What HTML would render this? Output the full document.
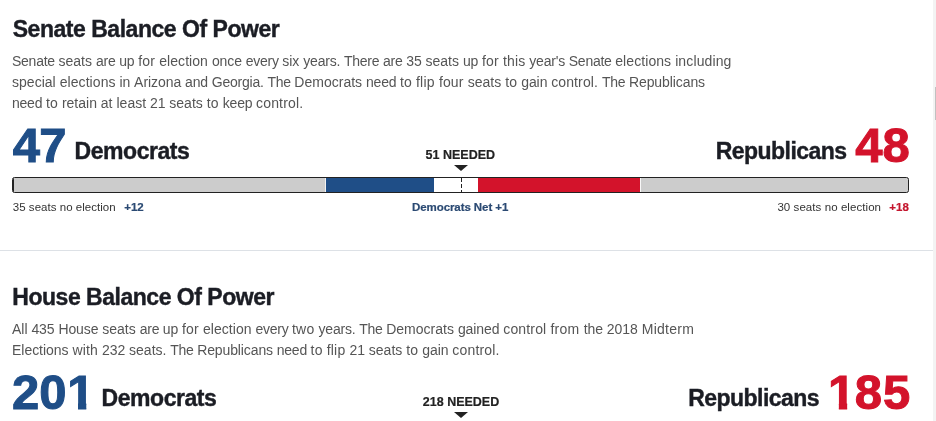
<!DOCTYPE html>
<html lang="en">
<head>
<meta charset="utf-8">
<title>Balance Of Power</title>
<style>
html,body{margin:0;padding:0;background:#fff;}
body{width:936px;height:421px;overflow:hidden;position:relative;font-family:"Liberation Sans",sans-serif;color:#1b1d24;}
.t{position:absolute;white-space:nowrap;margin:0;padding:0;line-height:1;}
h2.t{font-size:23px;font-weight:bold;color:#1b1d24;-webkit-text-stroke:0.4px #1b1d24;}
p.t{font-size:14px;color:#555;}
.num{font-size:49px;font-weight:bold;-webkit-text-stroke:1px;}
.one{display:inline-block;line-height:1;vertical-align:top;clip-path:polygon(0 0,100% 0,100% 34.8px,19.15px 34.8px,19.15px 100%,10.85px 100%,10.85px 34.8px,0 34.8px);}
.party{font-size:23px;font-weight:bold;color:#1b1d24;-webkit-text-stroke:0.4px #1b1d24;}
.need{font-size:12.5px;font-weight:bold;color:#222;-webkit-text-stroke:0.2px #222;}
.lbl{font-size:11.5px;color:#333;}
.lbl b{font-weight:bold;-webkit-text-stroke:0.2px;}
.dem{color:#1f4e87;}
.rep{color:#d3132b;}
.demd{color:#2b4a73;}
.repd{color:#c4162e;}
.tri{position:absolute;width:0;height:0;border-left:7.2px solid transparent;border-right:7.2px solid transparent;border-top:6.4px solid #222;}
.bar{position:absolute;left:12px;width:897px;height:16px;box-sizing:border-box;border:1px solid #222;border-radius:2.5px;background:#ccc;overflow:hidden;}
.bar i{position:absolute;top:0;height:100%;display:block;}
.hr{position:absolute;left:0;width:933px;height:1px;background:#dde1e6;}
.sb{position:absolute;left:932.5px;top:0;width:4px;height:421px;background:#f3f3f3;}
.sbt{position:absolute;left:934.5px;top:87px;width:2px;height:33px;background:#c1c1c1;}
</style>
</head>
<body>
<h2 class="t" id="h1" style="left:12.7px;top:18px;letter-spacing:-0.47px;">Senate Balance Of Power</h2>
<p class="t" id="p1" style="left:12px;top:54px;"><span style="letter-spacing:-0.256px">Senate </span><span style="letter-spacing:0.020px">seats </span><span style="letter-spacing:-0.228px">are </span><span style="letter-spacing:-0.148px">up </span><span style="letter-spacing:0.200px">for </span><span style="letter-spacing:0.056px">election </span><span style="letter-spacing:-0.072px">once </span><span style="letter-spacing:-0.286px">every </span><span style="letter-spacing:-0.000px">six </span><span style="letter-spacing:-0.185px">years. </span><span style="letter-spacing:-0.233px">There </span><span style="letter-spacing:-0.228px">are </span><span style="letter-spacing:-0.098px">35 </span><span style="letter-spacing:0.020px">seats </span><span style="letter-spacing:-0.148px">up </span><span style="letter-spacing:0.200px">for </span><span style="letter-spacing:0.133px">this </span><span style="letter-spacing:-0.188px">year's </span><span style="letter-spacing:-0.256px">Senate </span><span style="letter-spacing:0.072px">elections </span><span style="letter-spacing:0.124px">including</span></p>
<p class="t" id="p2" style="left:12px;top:75px;"><span style="letter-spacing:0.022px">special </span><span style="letter-spacing:0.072px">elections </span><span style="letter-spacing:-0.071px">in </span><span style="letter-spacing:-0.052px">Arizona </span><span style="letter-spacing:-0.143px">and </span><span style="letter-spacing:-0.217px">Georgia. </span><span style="letter-spacing:-0.273px">The </span><span style="letter-spacing:0.015px">Democrats </span><span style="letter-spacing:-0.230px">need </span><span style="letter-spacing:0.147px">to </span><span style="letter-spacing:0.233px">flip </span><span style="letter-spacing:0.145px">four </span><span style="letter-spacing:0.020px">seats </span><span style="letter-spacing:0.147px">to </span><span style="letter-spacing:-0.066px">gain </span><span style="letter-spacing:0.114px">control. </span><span style="letter-spacing:-0.273px">The </span><span style="letter-spacing:-0.089px">Republicans</span></p>
<p class="t" id="p3" style="left:12px;top:96px;"><span style="letter-spacing:-0.230px">need </span><span style="letter-spacing:0.147px">to </span><span style="letter-spacing:-0.003px">retain </span><span style="letter-spacing:0.024px">at </span><span style="letter-spacing:0.032px">least </span><span style="letter-spacing:-0.098px">21 </span><span style="letter-spacing:0.020px">seats </span><span style="letter-spacing:0.147px">to </span><span style="letter-spacing:-0.206px">keep </span><span style="letter-spacing:0.182px">control.</span></p>

<div class="t num dem" id="n1" style="left:12.8px;top:121.2px;"><span style="letter-spacing:-0.85px;">4</span>7</div>
<div class="t party" id="d1" style="left:74.6px;top:140.2px;letter-spacing:-0.46px;">Democrats</div>
<div class="t party" id="r1" style="left:715.8px;top:140.2px;letter-spacing:-0.56px;">Republicans</div>
<div class="t num rep" id="n2" style="left:855.3px;top:121.2px;"><span style="letter-spacing:-0.15px;">4</span>8</div>
<div class="t need" id="k1" style="left:425.6px;top:149px;">51 NEEDED</div>
<div class="tri" id="t1" style="left:454.1px;top:164.8px;"></div>
<div class="bar" id="b1" style="top:177px;">
  <i style="left:0;width:0.4px;background:#222;"></i>
  <i style="right:0;width:0.4px;background:#222;"></i>
  <i style="left:312.4px;width:0.7px;background:rgba(255,255,255,.75);"></i>
  <i style="left:313px;width:108px;background:#1f4e87;"></i>
  <i style="left:421px;width:44px;background:#fff;"></i>
  <i style="left:448px;width:1px;background:repeating-linear-gradient(to bottom,#222 0,#222 4px,transparent 4px,transparent 6px);"></i>
  <i style="left:465px;width:162px;background:#d3132b;"></i>
  <i style="left:627px;width:0.7px;background:rgba(255,255,255,.85);"></i>
</div>
<div class="t lbl" id="l1" style="left:12.8px;top:202px;letter-spacing:0.03px;">35 seats no election</div>
<div class="t lbl demd" id="l2" style="left:124.2px;top:202px;"><b>+12</b></div>
<div class="t lbl demd" id="l3" style="left:412px;top:201.6px;letter-spacing:-0.08px;"><b>Democrats Net +1</b></div>
<div class="t lbl" id="l4" style="left:777.4px;top:202px;letter-spacing:0.07px;">30 seats no election</div>
<div class="t lbl repd" id="l5" style="left:889.3px;top:202px;"><b>+18</b></div>

<div class="hr" style="top:250px;"></div>

<h2 class="t" id="h2" style="left:12.3px;top:286px;letter-spacing:-0.48px;">House Balance Of Power</h2>
<p class="t" id="p4" style="left:12px;top:322px;"><span style="letter-spacing:-0.019px">All </span><span style="letter-spacing:-0.056px">435 </span><span style="letter-spacing:-0.103px">House </span><span style="letter-spacing:0.020px">seats </span><span style="letter-spacing:-0.228px">are </span><span style="letter-spacing:-0.148px">up </span><span style="letter-spacing:0.200px">for </span><span style="letter-spacing:0.056px">election </span><span style="letter-spacing:-0.286px">every </span><span style="letter-spacing:0.210px">two </span><span style="letter-spacing:-0.185px">years. </span><span style="letter-spacing:-0.273px">The </span><span style="letter-spacing:0.015px">Democrats </span><span style="letter-spacing:-0.087px">gained </span><span style="letter-spacing:0.155px">control </span><span style="letter-spacing:0.279px">from </span><span style="letter-spacing:-0.052px">the </span><span style="letter-spacing:-0.032px">2018 </span><span style="letter-spacing:0.272px">Midterm</span></p>
<p class="t" id="p5" style="left:12px;top:343px;"><span style="letter-spacing:-0.029px">Elections </span><span style="letter-spacing:0.170px">with </span><span style="letter-spacing:-0.056px">232 </span><span style="letter-spacing:-0.013px">seats. </span><span style="letter-spacing:-0.273px">The </span><span style="letter-spacing:-0.117px">Republicans </span><span style="letter-spacing:-0.230px">need </span><span style="letter-spacing:0.147px">to </span><span style="letter-spacing:0.233px">flip </span><span style="letter-spacing:-0.098px">21 </span><span style="letter-spacing:0.020px">seats </span><span style="letter-spacing:0.147px">to </span><span style="letter-spacing:-0.066px">gain </span><span style="letter-spacing:0.182px">control.</span></p>

<div class="t num dem" id="n3" style="left:12px;top:368.2px;">2<span style="letter-spacing:0.6px;">0</span><span class="one">1</span></div>
<div class="t party" id="d2" style="left:101.6px;top:387.2px;letter-spacing:-0.46px;">Democrats</div>
<div class="t party" id="r2" style="left:688.3px;top:387.2px;letter-spacing:-0.56px;">Republicans</div>
<div class="t num rep" id="n4" style="left:828px;top:368.2px;"><span class="one" style="margin-right:-0.55px;">1</span><span style="letter-spacing:0.95px;">8</span>5</div>
<div class="t need" id="k2" style="left:422.8px;top:395.7px;">218 NEEDED</div>
<div class="tri" id="t2" style="left:454.1px;top:411.8px;"></div>

<div class="sb"></div><div class="sbt"></div>
</body>
</html>
